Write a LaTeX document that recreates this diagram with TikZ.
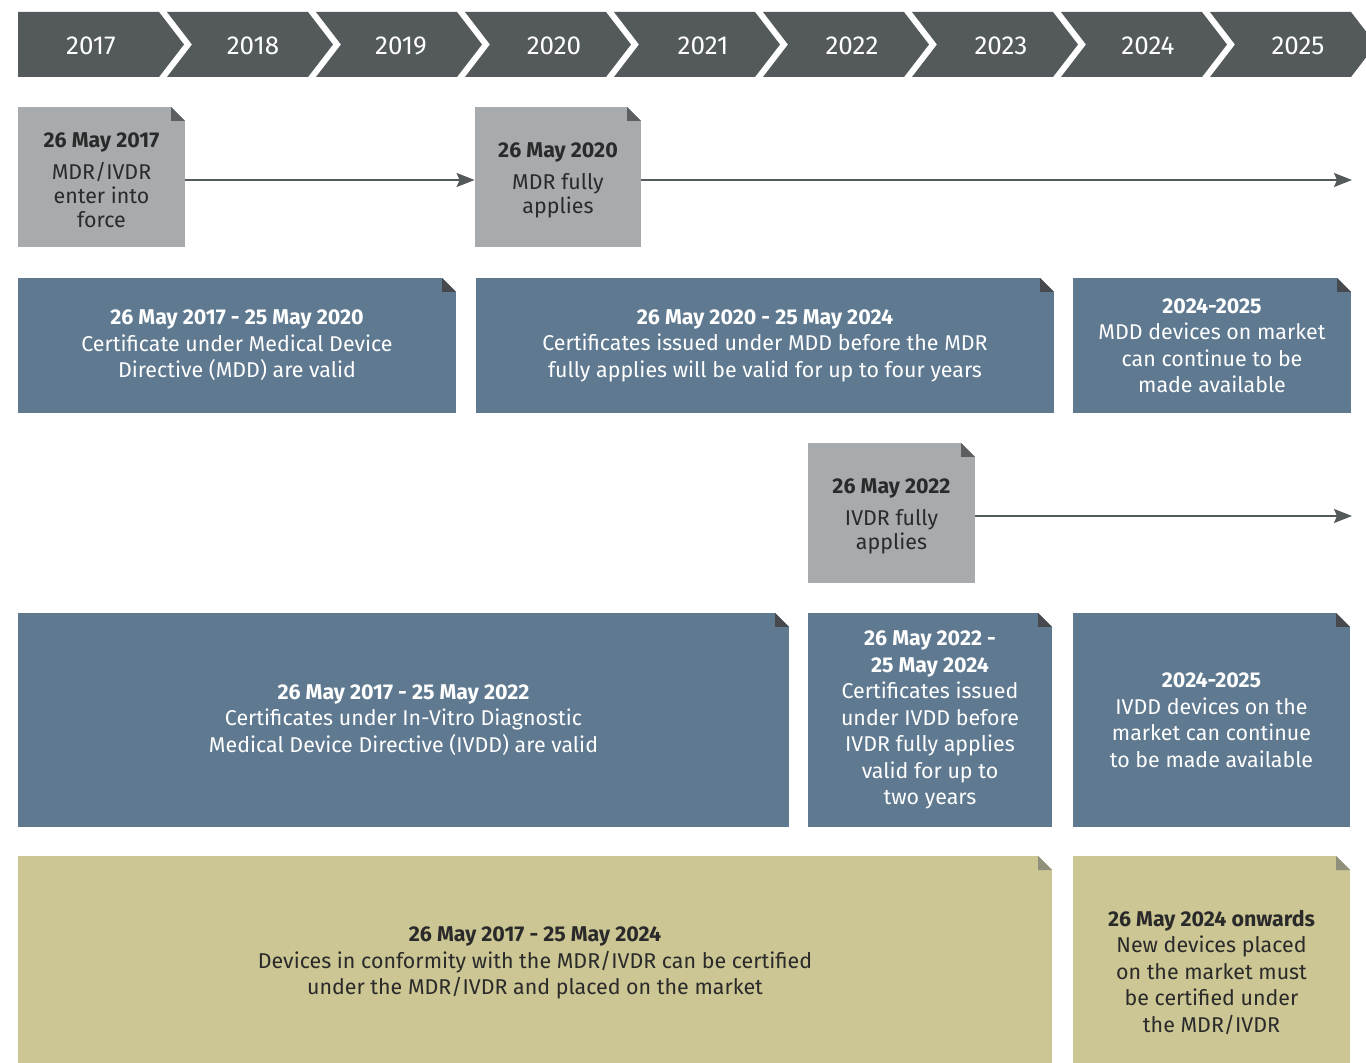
\documentclass[tikz,border=0pt]{standalone}
\usepackage{fontspec}
\setmainfont{Fira Sans}
\usepackage{tikz}
\usetikzlibrary{shapes,arrows.meta,positioning}

\definecolor{yearbar}{HTML}{54595C}
\definecolor{greyfill}{HTML}{A7ABAE}
\definecolor{greyfold}{HTML}{5B5F62}
\definecolor{bluefill}{HTML}{5E7990}
\definecolor{bluefold}{HTML}{46494E}
\definecolor{khakifill}{HTML}{CBC693}
\definecolor{khakifold}{HTML}{8F8F7B}
\definecolor{darktext}{HTML}{2A2A2A}

% dog-ear in the top right corner of a box
\newcommand{\foldpic}[1]{%
  \fill[white] ([xshift=-7pt]path picture bounding box.north east) -- (path picture bounding box.north east) -- ([yshift=-7pt]path picture bounding box.north east) -- cycle;
  \fill[#1] ([xshift=-7pt]path picture bounding box.north east) -- ([xshift=-7pt,yshift=-7pt]path picture bounding box.north east) -- ([yshift=-7pt]path picture bounding box.north east) -- cycle;}

\tikzstyle{yearlabel} = [text=white, font=\fontsize{13}{15}\selectfont]
\tikzstyle{datebox}   = [rectangle, fill=greyfill, text=darktext, align=center, inner sep=0pt, minimum width=83.5pt, minimum height=70pt, font=\fontsize{10.7}{12}\selectfont, path picture={\foldpic{greyfold}}]
\tikzstyle{bluebox}   = [rectangle, fill=bluefill, text=white, align=center, inner sep=0pt, minimum height=67.5pt, font=\fontsize{10.7}{13.25}\selectfont, path picture={\foldpic{bluefold}}]
\tikzstyle{khakibox}  = [rectangle, fill=khakifill, text=darktext, align=center, inner sep=0pt, minimum height=103.5pt, font=\fontsize{10.7}{13.25}\selectfont, path picture={\foldpic{khakifold}}]
\tikzstyle{line}      = [draw=yearbar, line width=1pt, -{Stealth[length=9pt,width=7pt,inset=1.5pt]}]

\begin{document}
\begin{tikzpicture}[x=0.5pt, y=-0.5pt]
  \useasboundingbox (0,0) rectangle (1366,1063);

  % year bar
  \fill[yearbar] (18,12) -- (159,12) -- (184,44.5) -- (159,77) -- (18,77) -- cycle;
  \foreach \i in {1,...,8}
    \fill[yearbar] ({18+149*\i},12) -- ({159+149*\i},12) -- ({184+149*\i},44.5) -- ({159+149*\i},77) -- ({18+149*\i},77) -- ({43+149*\i},44.5) -- cycle;
  \foreach \yr/\x in {2017/91, 2018/253, 2019/401, 2020/554, 2021/703, 2022/852, 2023/1001, 2024/1148, 2025/1298}
    \node [yearlabel] (year\yr) at (\x,46) {\yr};

  % MDR
  \node [datebox] (may17) at (101.5,177) {\rule{0pt}{11pt}\textbf{26 May 2017}\\[4pt]MDR/IVDR\\enter into\\force};
  \node [datebox, minimum width=83pt] (mdrfull) at (558,177) {\rule{0pt}{11pt}\textbf{26 May 2020}\\[4pt]MDR fully\\applies};
  \coordinate (mdrend) at (1352,180);

  \node [bluebox, minimum width=219pt] (mddvalid) at (237,345.5) {\textbf{26 May 2017 - 25 May 2020}\\Certificate under Medical Device\\Directive (MDD) are valid};
  \node [bluebox, minimum width=289pt] (mddtransit) at (765,345.5) {\textbf{26 May 2020 - 25 May 2024}\\Certificates issued under MDD before the MDR\\fully applies will be valid for up to four years};
  \node [bluebox, minimum width=139pt] (mddmarket) at (1212,345.5) {\textbf{2024-2025}\\MDD devices on market\\can continue to be\\made available};

  % IVDR
  \node [datebox] (ivdrfull) at (891.5,513) {\rule{0pt}{11pt}\textbf{26 May 2022}\\[4pt]IVDR fully\\applies};
  \coordinate (ivdrend) at (1352,516);

  \node [bluebox, minimum width=385.5pt, minimum height=107pt] (ivddvalid) at (403.5,720) {\textbf{26 May 2017 - 25 May 2022}\\Certificates under In-Vitro Diagnostic\\Medical Device Directive (IVDD) are valid};
  \node [bluebox, minimum width=122pt, minimum height=107pt] (ivddtransit) at (930,720) {\textbf{26 May 2022 -}\\\textbf{25 May 2024}\\Certificates issued\\under IVDD before\\IVDR fully applies\\valid for up to\\two years};
  \node [bluebox, minimum width=138.5pt, minimum height=107pt] (ivddmarket) at (1211.5,720) {\textbf{2024-2025}\\IVDD devices on the\\market can continue\\to be made available};

  % new devices
  \node [khakibox, minimum width=517pt] (newcert) at (535,959.5) {\rule{0pt}{11pt}\textbf{26 May 2017 - 25 May 2024}\\Devices in conformity with the MDR/IVDR can be certified\\under the MDR/IVDR and placed on the market};
  \node [khakibox, minimum width=138.5pt] (newdevices) at (1211.5,959.5) {\rule{0pt}{21pt}\textbf{26 May 2024 onwards}\\New devices placed\\on the market must\\be certified under\\the MDR/IVDR};

  \path [line] ([yshift=-1.5pt]may17.east) -- ([yshift=-1.5pt]mdrfull.west);
  \path [line] ([yshift=-1.5pt]mdrfull.east) -- (mdrend);
  \path [line] ([yshift=-1.5pt]ivdrfull.east) -- (ivdrend);
\end{tikzpicture}
\end{document}
